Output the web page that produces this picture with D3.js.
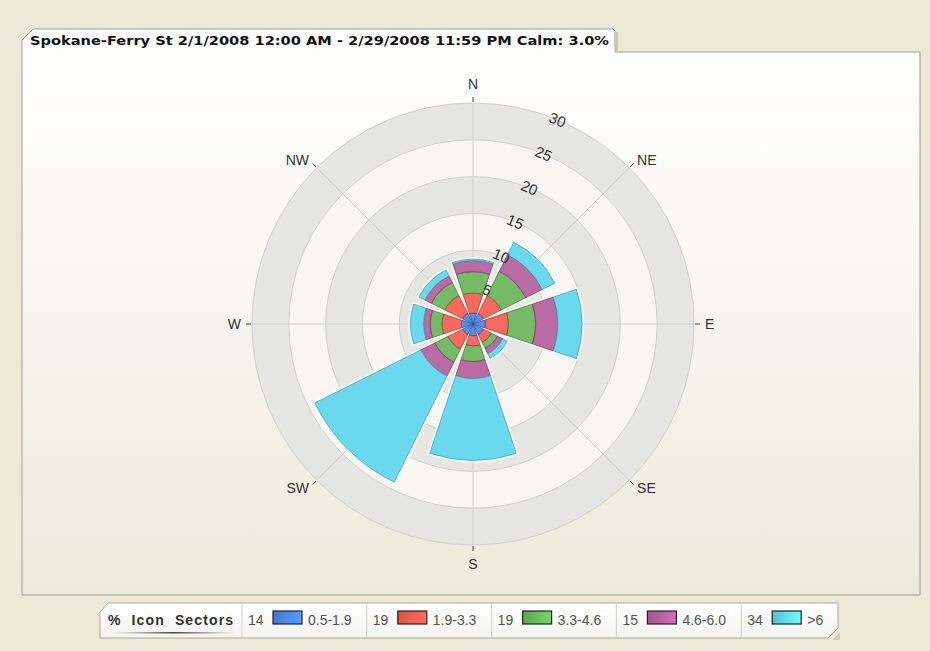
<!DOCTYPE html>
<html>
<head>
<meta charset="utf-8">
<script src="https://cdn.jsdelivr.net/npm/d3@7"></script>
<style>
  html, body { margin: 0; padding: 0; background: #ece9d8; }
  svg { display: block; }
</style>
</head>
<body>
<div id="rose"></div>
<script>
const title = "Spokane-Ferry St 2/1/2008 12:00 AM - 2/29/2008 11:59 PM Calm: 3.0%";
const directions = ["N", "NE", "E", "SE", "S", "SW", "W", "NW"];
const speedClasses = ["0.5-1.9", "1.9-3.3", "3.3-4.6", "4.6-6.0", ">6"];
const classPercents = [14, 19, 19, 15, 34];
const ringTicks = [5, 10, 15, 20, 25, 30];

// percent of time per direction, one array per speed class (stacked outward)
const speed05to19 = [1.5, 1.6, 1.7, 1.6, 1.6, 1.6, 1.6, 1.6];
const speed19to33 = [2.7, 2.7, 3.1, 1.2, 1.4, 2.2, 2.6, 2.7];
const speed33to46 = [2.9, 3.7, 3.7, 0.9, 2.1, 2.0, 1.6, 2.0];
const speed46to60 = [1.5, 2.5, 3.0, 0.8, 2.3, 2.1, 0.9, 1.0];
const speedOver6 = [0.2, 1.9, 3.3, 0.7, 11.1, 16.1, 1.8, 0.9];

const seriesValues = [speed05to19, speed19to33, speed33to46, speed46to60, speedOver6];
const fills = ["#4a84ea", "#f55c4e", "#68b45a", "#b45e9c", "#5ed6ec"];
const strokes = ["#2a4f9a", "#a8352c", "#3f7a35", "#7e3b6c", "#3b9fb5"];

const W = 930, H = 651;
const cx = 473, cy = 324;

const svg = d3.select("#rose").append("svg").attr("width", W).attr("height", H);
const defs = svg.append("defs");

const panelGrad = defs.append("linearGradient")
  .attr("id", "panelGrad")
  .attr("gradientUnits", "userSpaceOnUse")
  .attr("x1", 0).attr("y1", 29).attr("x2", 0).attr("y2", 595);
panelGrad.append("stop").attr("offset", 0).attr("stop-color", "#ffffff");
panelGrad.append("stop").attr("offset", 0.4).attr("stop-color", "#f9f8f3");
panelGrad.append("stop").attr("offset", 1).attr("stop-color", "#ecead9");

const legendGrad = defs.append("linearGradient")
  .attr("id", "legendGrad").attr("x1", 0).attr("y1", 0).attr("x2", 0).attr("y2", 1);
legendGrad.append("stop").attr("offset", 0).attr("stop-color", "#ffffff");
legendGrad.append("stop").attr("offset", 1).attr("stop-color", "#f4f4f0");

const lineGrad = defs.append("linearGradient").attr("id", "lineGrad");
lineGrad.append("stop").attr("offset", 0).attr("stop-color", "#666").attr("stop-opacity", 0);
lineGrad.append("stop").attr("offset", 0.5).attr("stop-color", "#444").attr("stop-opacity", 1);
lineGrad.append("stop").attr("offset", 1).attr("stop-color", "#666").attr("stop-opacity", 0);

fills.forEach((c, i) => {
  const g = defs.append("linearGradient").attr("id", `sw${i}`);
  g.append("stop").attr("offset", 0).attr("stop-color", d3.color(c).darker(0.3));
  g.append("stop").attr("offset", 1).attr("stop-color", d3.color(c).brighter(0.5));
});

// background + panel with title tab
svg.append("rect").attr("width", W).attr("height", H).attr("fill", "#ece9d8");

svg.append("path")
  .attr("d", "M615,52 L920,52 L920,595 L22,595 L22,40 L33,29 L613,29 L615,31 Z")
  .attr("fill", "url(#panelGrad)")
  .attr("stroke", "#9c9c98")
  .attr("stroke-width", 1);

svg.append("line")
  .attr("x1", 617).attr("y1", 32).attr("x2", 617).attr("y2", 51)
  .attr("stroke", "#c8c6bb").attr("stroke-width", 2);

svg.append("text")
  .attr("x", 30).attr("y", 45)
  .attr("textLength", 579)
  .attr("lengthAdjust", "spacingAndGlyphs")
  .attr("font-family", "DejaVu Sans, Verdana, sans-serif")
  .attr("font-weight", "bold")
  .attr("font-size", 12.5)
  .attr("fill", "#111")
  .text(title);

// radial scale
const r = d3.scaleLinear().domain([0, 30]).range([0, 221]);
const angle = d3.scaleBand().domain(directions).range([-Math.PI / 8, 2 * Math.PI - Math.PI / 8]);
const mid = d => angle(d) + angle.bandwidth() / 2;

const plot = svg.append("g").attr("transform", `translate(${cx},${cy})`);

// alternating bands: 25-30 grey, 20-25 light, ...
const bandEdges = [0].concat(ringTicks).reverse();
plot.selectAll(".band")
  .data(bandEdges.filter(d => d > 0))
  .join("circle")
  .attr("class", "band")
  .attr("r", d => r(d))
  .attr("fill", d => (d / 5) % 2 === 0 ? "#e6e6e3" : "#f7f6f2")
  .attr("stroke", "#d0d0cd")
  .attr("stroke-width", 1);

// spokes + ticks
plot.selectAll(".spoke")
  .data(directions)
  .join("line")
  .attr("class", "spoke")
  .attr("x1", 0).attr("y1", 0)
  .attr("x2", d => r(30) * Math.sin(mid(d)))
  .attr("y2", d => -r(30) * Math.cos(mid(d)))
  .attr("stroke", "#cfcfcc")
  .attr("stroke-width", 1);

plot.selectAll(".tick")
  .data(directions)
  .join("line")
  .attr("class", "tick")
  .attr("x1", d => (r(30) + 1) * Math.sin(mid(d)))
  .attr("y1", d => -(r(30) + 1) * Math.cos(mid(d)))
  .attr("x2", d => (r(30) + 6) * Math.sin(mid(d)))
  .attr("y2", d => -(r(30) + 6) * Math.cos(mid(d)))
  .attr("stroke", "#444")
  .attr("stroke-width", 1);

plot.selectAll(".dir")
  .data(directions)
  .join("text")
  .attr("class", "dir")
  .attr("x", d => {
    const s = Math.sin(mid(d));
    return (Math.abs(s) < 0.1 ? 240 : 232) * s;
  })
  .attr("y", d => {
    const c = Math.cos(mid(d));
    return -(Math.abs(Math.sin(mid(d))) < 0.1 ? 240 : 232) * c;
  })
  .attr("dy", "0.36em")
  .attr("text-anchor", d => {
    const s = Math.sin(mid(d));
    return s > 0.1 ? "start" : s < -0.1 ? "end" : "middle";
  })
  .attr("font-family", "Liberation Sans, Arial, sans-serif")
  .attr("font-size", 14)
  .attr("fill", "#333")
  .text(d => d);

// stacked sectors
const table = directions.map((d, i) => {
  const row = { dir: d };
  speedClasses.forEach((k, j) => { row[k] = seriesValues[j][i]; });
  return row;
});
const stacked = d3.stack().keys(speedClasses)(table);

const halfSpan = 18.5 * Math.PI / 180;
const arc = d3.arc()
  .innerRadius(d => r(d[0]))
  .outerRadius(d => r(d[1]))
  .startAngle(d => mid(d.data.dir) - halfSpan)
  .endAngle(d => mid(d.data.dir) + halfSpan);

const totals = stacked[stacked.length - 1];
plot.selectAll(".halo")
  .data(totals)
  .join("path")
  .attr("class", "halo")
  .attr("d", d => arc(Object.assign([0, d[1]], { data: d.data })))
  .attr("fill", "#fbfbf8")
  .attr("stroke", "#fbfbf8")
  .attr("stroke-width", 4)
  .attr("stroke-linejoin", "round");

stacked.forEach((layer, j) => {
  plot.append("g")
    .selectAll("path")
    .data(layer)
    .join("path")
    .attr("d", arc)
    .attr("fill", fills[j])
    .attr("fill-opacity", 0.92)
    .attr("stroke", strokes[j])
    .attr("stroke-opacity", 0.75)
    .attr("stroke-width", 1);
});

// ring value labels sit in the gap at 22.5 deg
const labelAngle = 22.5;
plot.selectAll(".ringLabel")
  .data(ringTicks)
  .join("text")
  .attr("class", "ringLabel")
  .attr("transform", d => `rotate(${labelAngle}) translate(0,${-r(d)})`)
  .attr("dy", "0.35em")
  .attr("text-anchor", "middle")
  .attr("font-family", "Liberation Sans, Arial, sans-serif")
  .attr("font-size", 15)
  .attr("fill", "#333")
  .text(d => d);

// legend
const legend = svg.append("g");
legend.append("path")
  .attr("d", "M832,640 L840,632 L840,640 Z")
  .attr("fill", "#cfcdc1");
legend.append("path")
  .attr("d", "M100,612 L108,603 L838,603 L838,628 L828,638 L100,638 Z")
  .attr("fill", "url(#legendGrad)")
  .attr("stroke", "#a8a8a4")
  .attr("stroke-width", 1);

legend.append("text")
  .attr("x", 108).attr("y", 625)
  .attr("textLength", 125)
  .attr("lengthAdjust", "spacing")
  .attr("font-family", "Liberation Sans Narrow, Liberation Sans, Arial, sans-serif")
  .attr("font-weight", "bold")
  .attr("font-size", 14)
  .attr("fill", "#333")
  .attr("xml:space", "preserve")
  .text("%  Icon  Sectors");

legend.append("rect")
  .attr("x", 112).attr("y", 632).attr("width", 124).attr("height", 1.5)
  .attr("fill", "url(#lineGrad)");

const cellX = d3.scaleLinear().domain([0, 5]).range([242, 866]);

legend.selectAll(".sep")
  .data(speedClasses)
  .join("line")
  .attr("class", "sep")
  .attr("x1", (d, i) => cellX(i)).attr("x2", (d, i) => cellX(i))
  .attr("y1", 604).attr("y2", 638)
  .attr("stroke", "#d0d0cc");

const cells = legend.selectAll(".cell")
  .data(speedClasses)
  .join("g")
  .attr("class", "cell")
  .attr("transform", (d, i) => `translate(${cellX(i)},0)`);

cells.append("text")
  .attr("x", 6).attr("y", 625)
  .attr("font-family", "Liberation Sans Narrow, Liberation Sans, Arial, sans-serif")
  .attr("font-size", 14)
  .attr("fill", "#555")
  .text((d, i) => classPercents[i]);

cells.append("rect")
  .attr("x", 31).attr("y", 611).attr("width", 29).attr("height", 13)
  .attr("fill", (d, i) => `url(#sw${i})`)
  .attr("stroke", "#222")
  .attr("stroke-width", 1.2);

cells.append("text")
  .attr("x", 66).attr("y", 625)
  .attr("font-family", "Liberation Sans Narrow, Liberation Sans, Arial, sans-serif")
  .attr("font-size", 14)
  .attr("fill", "#555")
  .text(d => d);
</script>
</body>
</html>
